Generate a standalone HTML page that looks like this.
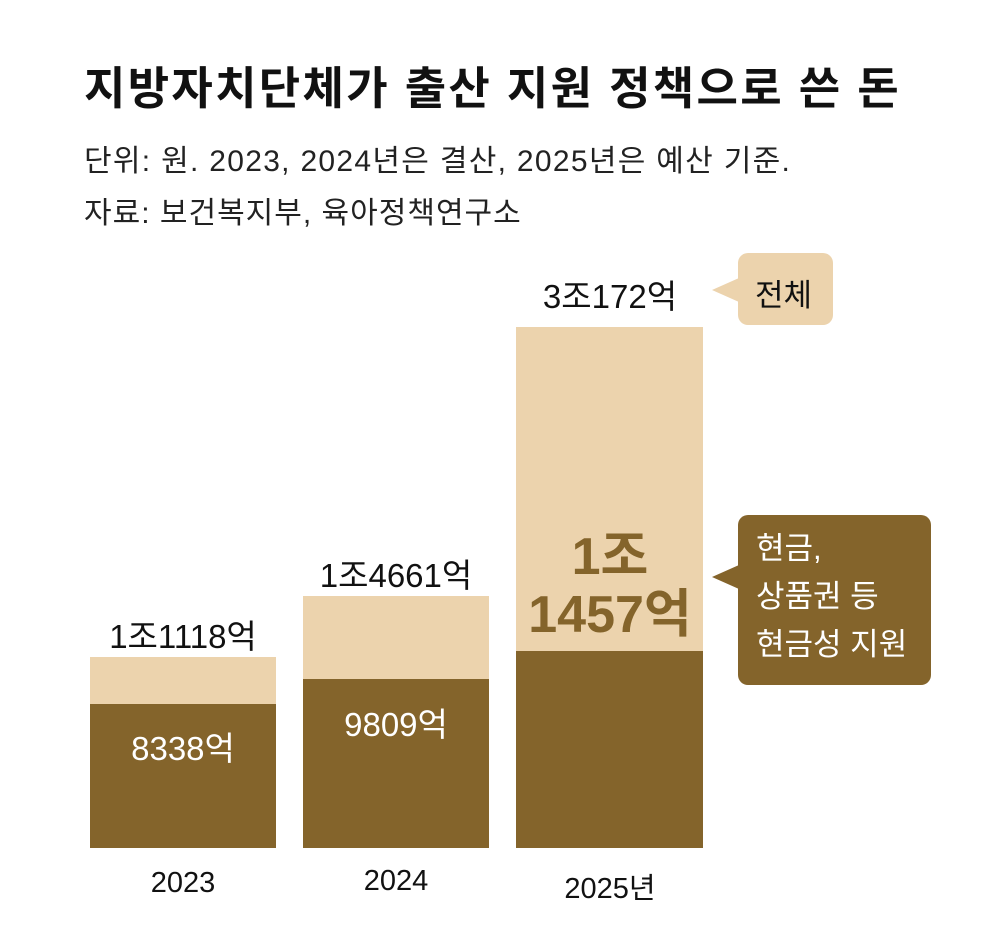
<!DOCTYPE html>
<html><head><meta charset="utf-8"><style>
body{margin:0;background:#fff;}
.c{position:relative;width:1000px;height:950px;font-family:"Liberation Sans","Noto Sans CJK KR",sans-serif;color:#111;overflow:hidden}
.a{position:absolute;white-space:nowrap}
.t{left:84px;top:52px;font-size:45px;font-weight:bold;letter-spacing:2.3px}
.s{left:84px;font-size:30px;color:#222;letter-spacing:1.3px}
.b{position:absolute}
.l{background:#ecd3ad}.d{background:#84642b}
.lab{position:absolute;font-size:33px;text-align:center;width:240px;letter-spacing:0}
.w{color:#fff}
.y{font-size:29px}
</style></head><body><div class="c">
<div class="a t">지방자치단체가 출산 지원 정책으로 쓴 돈</div>
<div class="a s" style="top:136px">단위: 원. 2023, 2024년은 결산, 2025년은 예산 기준.</div>
<div class="a s" style="top:188px;letter-spacing:1px">자료: 보건복지부, 육아정책연구소</div>

<div class="b l" style="left:90px;top:657px;width:186px;height:48px"></div>
<div class="b d" style="left:90px;top:704px;width:186px;height:144px"></div>
<div class="b l" style="left:303px;top:596px;width:186px;height:84px"></div>
<div class="b d" style="left:303px;top:679px;width:186px;height:169px"></div>
<div class="b l" style="left:516px;top:327px;width:187px;height:325px"></div>
<div class="b d" style="left:516px;top:651px;width:187px;height:197px"></div>

<div class="lab" style="left:63px;top:610px">1조1118억</div>
<div class="lab" style="left:276px;top:549px">1조4661억</div>
<div class="lab" style="left:490px;top:270px">3조172억</div>
<div class="lab w" style="left:63px;top:722px">8338억</div>
<div class="lab w" style="left:276px;top:698px">9809억</div>
<div class="lab" style="left:490px;top:528px;font-size:52px;font-weight:bold;color:#84642b;line-height:58px">1조<br>1457억</div>

<div class="lab y" style="left:63px;top:867px">2023</div>
<div class="lab y" style="left:276px;top:865px">2024</div>
<div class="lab y" style="left:490px;top:865px">2025년</div>

<div class="b l" style="left:738px;top:253px;width:95px;height:72px;border-radius:10px"></div>
<div class="b" style="left:712px;top:278px;width:0;height:0;border-top:12px solid transparent;border-bottom:12px solid transparent;border-right:27px solid #ecd3ad"></div>
<div class="a" style="left:755px;top:270px;font-size:31px">전체</div>

<div class="b d" style="left:738px;top:515px;width:193px;height:170px;border-radius:10px"></div>
<div class="b" style="left:712px;top:565px;width:0;height:0;border-top:12px solid transparent;border-bottom:12px solid transparent;border-right:27px solid #84642b"></div>
<div class="a w" style="left:756px;top:525px;font-size:31px;line-height:48px">현금,<br>상품권 등<br>현금성 지원</div>
</div></body></html>
